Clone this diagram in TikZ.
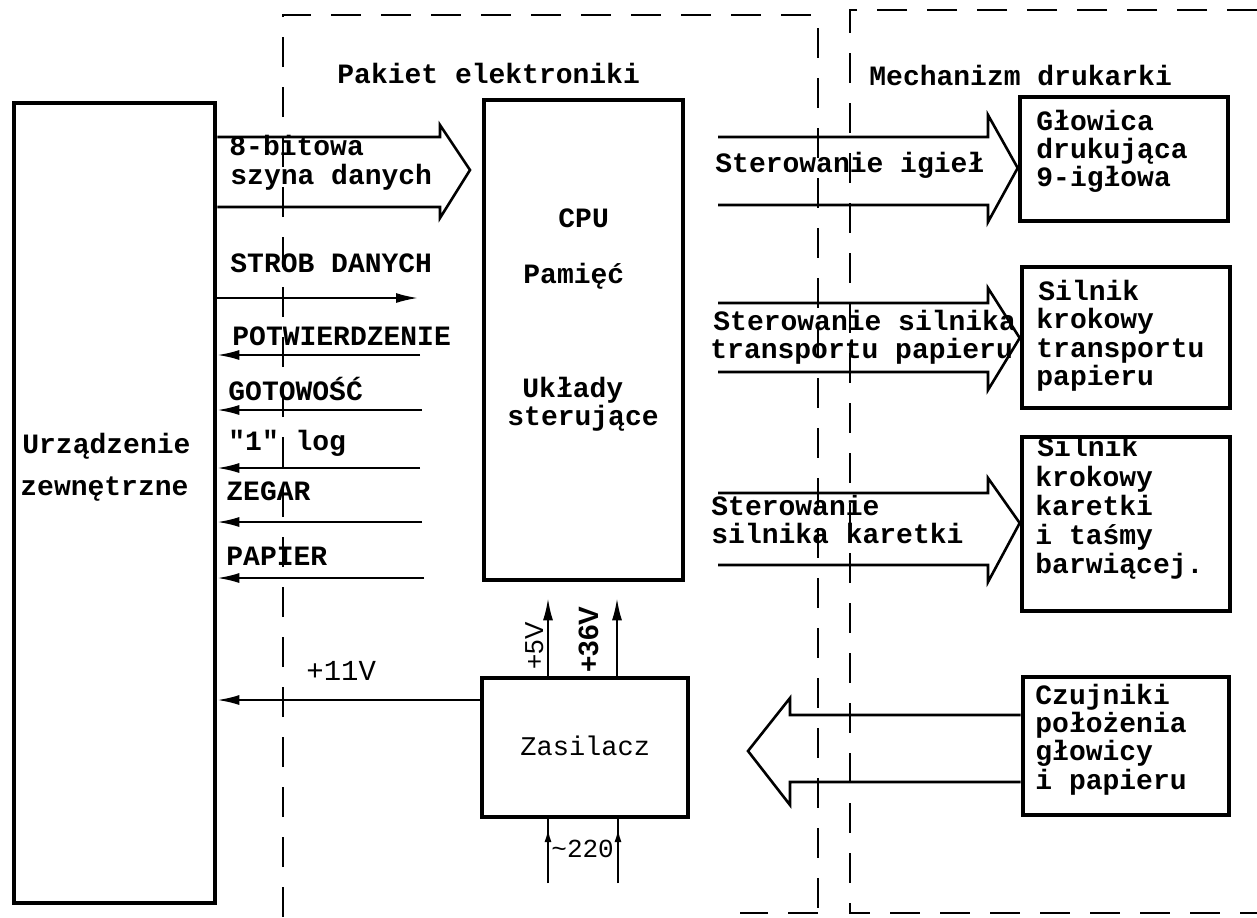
\documentclass[tikz,border=0pt]{standalone}
\usepackage{fontspec}
\newfontfamily\tw{Liberation Mono}
\newfontfamily\sns{Liberation Sans}
\usetikzlibrary{arrows.meta,fit}
\begin{document}
\begin{tikzpicture}[x=0.5pt,y=-0.5pt,
  box/.style={draw, line width=2.3pt, inner sep=0pt},
  lbl/.style={inner sep=0pt, anchor=base west, font=\tw\bfseries\fontsize{14}{14}\selectfont},
  lblr/.style={inner sep=0pt, anchor=base west, font=\tw\fontsize{14.5}{14.5}\selectfont},
  fatarrow/.style={draw, line width=1.3pt, line join=miter, miter limit=10},
  wire/.style={line width=1pt},
  sig/.style={wire, -{Latex[length=11pt,width=5pt]}},
  bnd/.style={line width=1.1pt, dash pattern=on 15pt off 10pt}]
\useasboundingbox (0,0) rectangle (1257,917);

% dashed boundaries
\draw[bnd] (283,917) -- (283,15) -- (818,15) -- (818,913);
\draw[bnd] (1257,10) -- (850,10) -- (850,913) -- (1257,913);
\draw[bnd] (818,913) -- (740,913);

% boxes
\node[box, fit={(14,103) (215,903)}] (ext) {};
\node[box, fit={(484,100) (683,580)}] (cpu) {};
\node[box, fit={(482,678) (688,817)}] (zas) {};
\node[box, fit={(1020,97) (1228,221)}] (glo) {};
\node[box, fit={(1022,267) (1230,408)}] (sil) {};
\node[box, fit={(1022,437) (1230,611)}] (kar) {};
\node[box, fit={(1023,677) (1229,815)}] (czu) {};

% titles
\node[lbl] (tpak) at (337,83) {Pakiet elektroniki};
\node[lbl] (tmech) at (869,85) {Mechanizm drukarki};

% external device
\node[lbl] (tur1) at (22,453) {Urządzenie};
\node[lbl] (tur2) at (20,495) {zewnętrzne};

% CPU texts
\node[lbl] (tcpu) at (558,227) {CPU};
\node[lbl] (tpam) at (523,283) {Pamięć};
\node[lbl] (tukl) at (522,397) {Układy};
\node[lbl] (tster) at (507,425) {sterujące};

% data bus fat arrow
\draw[fatarrow] (ext.east |- 0,137) -- (440,137) -- (440,125) -- (470,170)
  -- (440,218) -- (440,207) -- (ext.east |- 0,207);
\node[lbl] (tbit) at (229,155) {8-bitowa};
\node[lbl] (tszy) at (230,184) {szyna danych};

% control signals
\coordinate (s1) at (418,298);
\coordinate (s2) at (420,355);
\coordinate (s3) at (422,410);
\coordinate (s4) at (420,468);
\coordinate (s5) at (422,522);
\coordinate (s6) at (424,578);
\draw[sig] (ext.east |- s1) -- (s1);
\draw[sig] (s2) -- (ext.east |- s2);
\draw[sig] (s3) -- (ext.east |- s3);
\draw[sig] (s4) -- (ext.east |- s4);
\draw[sig] (s5) -- (ext.east |- s5);
\draw[sig] (s6) -- (ext.east |- s6);
\node[lbl] (tstr) at (230,272) {STROB DANYCH};
\node[lbl] (tpot) at (232,345) {POTWIERDZENIE};
\node[lbl] (tgot) at (228,400) {GOTOWOŚĆ};
\node[lbl] (tlog) at (228,450) {"1" log};
\node[lbl] (tzeg) at (226,500) {ZEGAR};
\node[lbl] (tpap) at (226,565) {PAPIER};

% power supply
\node[inner sep=0pt, anchor=base west, font=\tw\fontsize{13.5}{13.5}\selectfont] (tzas) at (520,755) {Zasilacz};
\coordinate (p11) at (0,700);
\draw[sig] (zas.west |- p11) -- (ext.east |- p11);
\node[lblr] (t11) at (306,680) {+11V};

\coordinate (p5) at (548,0);
\coordinate (p36) at (617,0);
\draw[sig, shorten >=8pt] (zas.north -| p5) -- (cpu.south -| p5);
\draw[sig, shorten >=8pt] (zas.north -| p36) -- (cpu.south -| p36);
\node[font=\sns\fontsize{13}{13}\selectfont, rotate=90, anchor=base west, inner sep=0pt] (t5v) at (543,670) {+5V};
\node[font=\sns\bfseries\fontsize{14}{14}\selectfont, rotate=90, anchor=base west, inner sep=0pt] (t36v) at (598,673) {+36V};

\coordinate (m1) at (548,883);
\coordinate (m2) at (618,883);
\coordinate (h1) at (548,829);
\coordinate (h2) at (618,829);
\draw[wire] (m1) -- (zas.south -| m1);
\draw[wire] (m2) -- (zas.south -| m2);
\draw[wire, -{Latex[length=6.5pt,width=3.5pt]}] (m1) -- (h1);
\draw[wire, -{Latex[length=6.5pt,width=3.5pt]}] (m2) -- (h2);
\node[inner sep=0pt, anchor=base west, font=\tw\fontsize{13}{13}\selectfont] (t220) at (551,857) {\textasciitilde220};

% printer mechanism fat arrows
\draw[fatarrow] (718,137) -- (988,137) -- (988,115) -- (glo.west |- 0,168)
  -- (988,222) -- (988,205) -- (718,205);
\node[lbl] (tigi) at (715,172) {Sterowanie igieł};

\draw[fatarrow] (718,303) -- (988,303) -- (988,288) -- (sil.west |- 0,338)
  -- (988,390) -- (988,372) -- (718,372);
\node[lbl] (tss1) at (713,330) {Sterowanie silnika};
\node[lbl] (tss2) at (710,358) {transportu papieru};

\draw[fatarrow] (718,493) -- (988,493) -- (988,478) -- (kar.west |- 0,523)
  -- (988,582) -- (988,565) -- (718,565);
\node[lbl] (tsk1) at (711,515) {Sterowanie};
\node[lbl] (tsk2) at (711,543) {silnika karetki};

\draw[fatarrow] (czu.west |- 0,715) -- (790,715) -- (790,698) -- (748,751)
  -- (790,805) -- (790,782) -- (czu.west |- 0,782);

% box texts
\node[lbl] (tg1) at (1036,130) {Głowica};
\node[lbl] (tg2) at (1036,158) {drukująca};
\node[lbl] (tg3) at (1036,186) {9-igłowa};

\node[lbl] (ts1) at (1038,300) {Silnik};
\node[lbl] (ts2) at (1036,328) {krokowy};
\node[lbl] (ts3) at (1036,357) {transportu};
\node[lbl] (ts4) at (1036,385) {papieru};

\node[lbl] (tk1) at (1037,456) {Silnik};
\node[lbl] (tk2) at (1035,486) {krokowy};
\node[lbl] (tk3) at (1035,515) {karetki};
\node[lbl] (tk4) at (1035,544) {i taśmy};
\node[lbl] (tk5) at (1035,573) {barwiącej.};

\node[lbl] (tc1) at (1035,704) {Czujniki};
\node[lbl] (tc2) at (1035,732) {położenia};
\node[lbl] (tc3) at (1035,760) {głowicy};
\node[lbl] (tc4) at (1035,789) {i papieru};
\end{tikzpicture}
\end{document}
